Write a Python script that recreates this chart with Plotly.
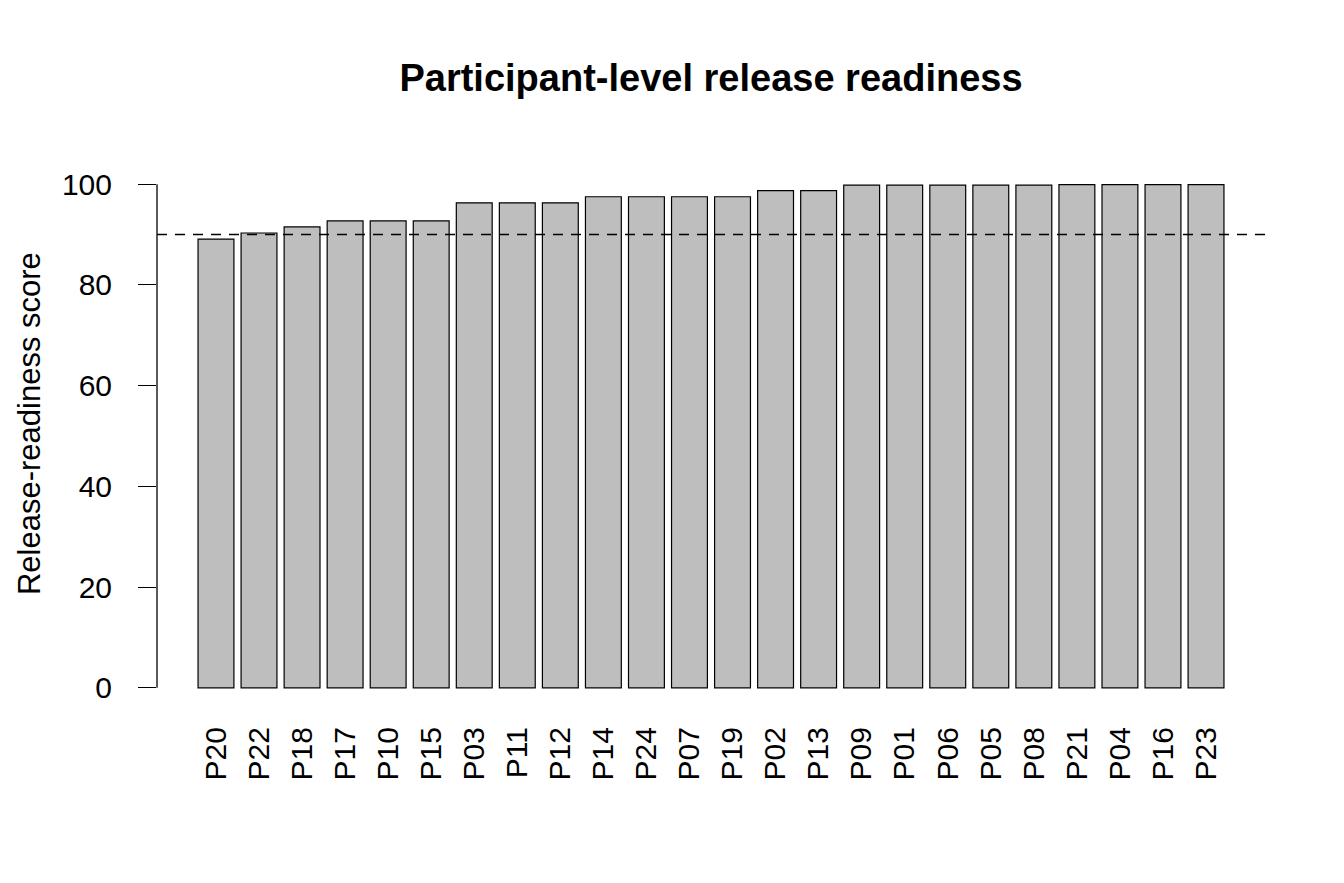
import plotly.graph_objects as go

participants = ['P20', 'P22', 'P18', 'P17', 'P10', 'P15', 'P03', 'P11', 'P12', 'P14', 'P24', 'P07',
                'P19', 'P02', 'P13', 'P09', 'P01', 'P06', 'P05', 'P08', 'P21', 'P04', 'P16', 'P23']
scores = [89.1, 90.3, 91.5, 92.7, 92.7, 92.7, 96.3, 96.3, 96.3, 97.5, 97.5, 97.5,
          97.5, 98.7, 98.7, 99.8, 99.8, 99.8, 99.8, 99.8, 99.9, 99.9, 99.9, 99.9]
threshold = 90
y_ticks = [0, 20, 40, 60, 80, 100]

font = "Liberation Sans, Arial, sans-serif"
fs = 30

fig = go.Figure()
fig.add_trace(go.Bar(x=participants, y=scores, marker_color="#BEBEBE",
                     marker_line=dict(color="black", width=1.2)))

# threshold line across plot region
fig.add_shape(type="line", xref="paper", x0=0, x1=1, yref="y", y0=threshold, y1=threshold,
              line=dict(color="black", width=1.3, dash="10px,8px"))
# R style y axis line only between first and last tick
fig.add_shape(type="line", xref="paper", x0=0, x1=0, yref="y", y0=y_ticks[0], y1=y_ticks[-1],
              line=dict(color="black", width=1.3))

fig.add_annotation(text="Release-readiness score", xref="paper", yref="paper",
                   x=0, xshift=-128, xanchor="center", y=0.522, yanchor="middle",
                   textangle=-90, showarrow=False, borderpad=0,
                   font=dict(size=31, color="black", family=font))

fig.update_layout(
    width=1344, height=883,
    margin=dict(l=149, r=87, t=156, b=183),
    plot_bgcolor="white", paper_bgcolor="white",
    showlegend=False,
    bargap=1 - 1 / 1.2,
    font=dict(family=font, color="black", size=fs),
    title=dict(text="<b>Participant-level release readiness</b>", x=0.5, xref="paper",
               y=1 - 70 / 883, yref="container", yanchor="middle", xanchor="center",
               font=dict(size=38, family=font, color="black")),
    xaxis=dict(range=[-1.37, 24.37], tickangle=-90, showline=False, ticks="",
               showgrid=False, zeroline=False, tickfont=dict(size=fs), ticklabelstandoff=12),
    yaxis=dict(range=[-4, 104], tickvals=y_ticks, ticks="outside", ticklen=18, tickwidth=1.3,
               tickcolor="black", showline=False, showgrid=False, zeroline=False,
               tickfont=dict(size=fs), ticklabelstandoff=20),
)

fig.write_html("out.html")
